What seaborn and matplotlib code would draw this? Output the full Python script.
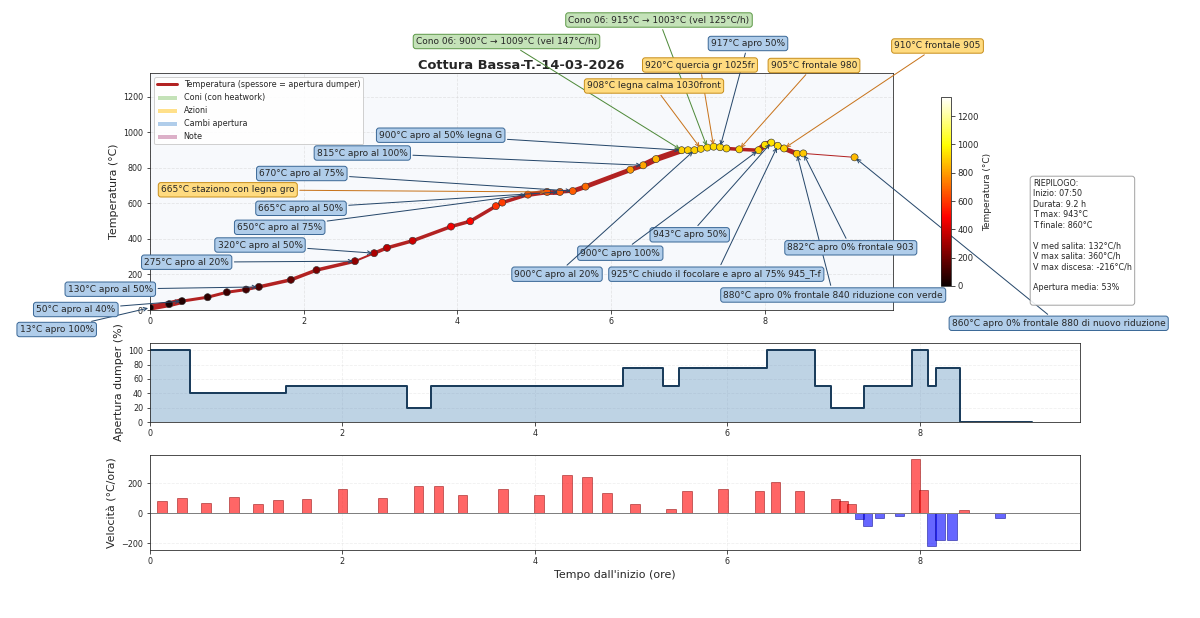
import numpy as np
import matplotlib
matplotlib.use("Agg")
import matplotlib.pyplot as plt
import seaborn as sns
from matplotlib.collections import LineCollection
from matplotlib.lines import Line2D
from matplotlib.patches import Patch
from matplotlib.colors import Normalize
from matplotlib.cm import ScalarMappable

sns.set_style("ticks")
plt.rcParams["font.family"] = ["DejaVu Sans"]

# ---------------- data ----------------
minutes = [0, 15, 25, 45, 60, 75, 85, 110, 130, 160, 175, 185, 205, 235, 250, 270, 275,
           295, 310, 320, 330, 340, 375, 385, 395, 415, 420, 425, 430, 435, 440, 445,
           450, 460, 475, 480, 485, 490, 495, 505, 510, 550]
temps = [13, 33, 50, 72, 100, 115, 130, 170, 225, 275, 320, 350, 390, 470, 500, 585, 605,
         650, 665, 665, 670, 695, 790, 815, 850, 900, 900, 900, 908, 915, 920, 917,
         910, 905, 900, 930, 943, 925, 910, 880, 882, 860]

dumper_min = [0, 25, 85, 160, 175, 295, 320, 330, 385, 415, 425, 445, 475, 485, 490, 505, 550]
dumper_open = [100, 40, 50, 20, 50, 75, 50, 75, 100, 50, 20, 50, 100, 50, 75, 0, 0]

# rate of each segment between consecutive readings (°C/h)
velocity = [80, 102, 66, 112, 60, 90, 96, 165, 100, 180, 180, 120, 160, 120, 255, 240,
            135, 60, 0, 30, 150, 163, 150, 210, 150, 0, 0, 96, 84, 60, -36, -84, -30,
            -20, 360, 156, -216, -180, -180, 24, -33]

ann_labels = [
    "13°C apro 100%", "50°C apro al 40%", "130°C apro al 50%", "275°C apro al 20%",
    "320°C apro al 50%", "650°C apro al 75%", "665°C apro al 50%",
    "665°C staziono con legna gro", "670°C apro al 75%", "815°C apro al 100%",
    "900°C apro al 50% legna G", "943°C apro 50%", "900°C apro 100%", "900°C apro al 20%",
    "925°C chiudo il focolare e apro al 75% 945_T-f",
    "880°C apro 0% frontale 840 riduzione con verde", "882°C apro 0% frontale 903",
    "860°C apro 0% frontale 880 di nuovo riduzione",
    "Cono 06: 915°C → 1003°C (vel 125°C/h)", "Cono 06: 900°C → 1009°C (vel 147°C/h)",
    "917°C apro 50%", "910°C frontale 905", "920°C quercia gr 1025fr",
    "905°C frontale 980", "908°C legna calma 1030front",
]
ann_minute = [0, 25, 85, 160, 175, 295, 320, 310, 330, 385, 415, 485, 475, 425, 490, 505,
              510, 550, 435, 415, 445, 495, 440, 460, 430]
ann_cat = ["apertura"] * 7 + ["azione"] + ["apertura"] * 10 + ["cono", "cono", "apertura",
                                                             "azione", "azione", "azione", "azione"]

summary = ("RIEPILOGO:\nInizio: 07:50\nDurata: 9.2 h\nT max: 943°C\nT finale: 860°C\n\n"
           "V med salita: 132°C/h\nV max salita: 360°C/h\nV max discesa: -216°C/h\n\n"
           "Apertura media: 53%\n")

# ---------------- layout (figure pixels from top-left) ----------------
ann_pos_px = [(56.7, 329.5), (75.8, 309.5), (110.3, 289.2), (186.7, 262.2), (260, 245),
              (279.7, 227.3), (301, 208.3), (227.8, 189.8), (301.8, 173.5), (362.3, 153),
              (440.7, 135.2), (689.7, 234.8), (620.3, 253.2), (557, 274.2), (716.3, 274.2),
              (833.2, 295), (850.8, 247.8), (1058.7, 323.3), (659, 20), (506.5, 41.5),
              (748, 43.5), (937.5, 46), (700, 65), (814, 65.5), (654, 86)]

styles = {
    "apertura": dict(fc="#b0cdea", ec="#3d6a98", arrow="#27486b"),
    "azione": dict(fc="#ffdb80", ec="#c8901e", arrow="#c8741c"),
    "cono": dict(fc="#c4e2b8", ec="#5f9a4a", arrow="#4f8a3a"),
}

W, H = 1200, 618
fig = plt.figure(figsize=(W / 72, H / 72), dpi=72)
ax1 = fig.add_axes([150 / W, 1 - 310 / H, 743 / W, 237 / H])
cax = fig.add_axes([941 / W, 1 - 286 / H, 9.5 / W, 189 / H])
ax2 = fig.add_axes([150 / W, 1 - 422 / H, 930 / W, 79 / H])
ax3 = fig.add_axes([150 / W, 1 - 550 / H, 930 / W, 95 / H])

hours = np.array(minutes) / 60.0
T = np.array(temps, dtype=float)
d_hours = np.array(dumper_min) / 60.0
XMAX = hours.max() + 0.5
YMAX = 1335

# ---------- main temperature panel ----------
ax1.set_facecolor("#f7f9fc")
seg_open = np.array(dumper_open)[np.searchsorted(dumper_min, minutes[:-1], side="right") - 1]
pts = np.column_stack([hours, T])
segs = np.stack([pts[:-1], pts[1:]], axis=1)
lc = LineCollection(segs, linewidths=1 + seg_open / 20.0, colors="#b22222",
                    capstyle="round", zorder=3)
ax1.add_collection(lc)
sns.scatterplot(x=hours, y=T, hue=T, palette="hot", hue_norm=(0, YMAX), s=50,
                edgecolor="#333333", linewidth=0.6, legend=False, zorder=5, ax=ax1)

for lab, m, cat, (px, py) in zip(ann_labels, ann_minute, ann_cat, ann_pos_px):
    i = minutes.index(m)
    st = styles[cat]
    ax1.annotate(lab, xy=(hours[i], T[i]), xytext=(px, H - py), textcoords="figure pixels",
                 ha="center", va="center", fontsize=9, zorder=10, annotation_clip=False,
                 bbox=dict(boxstyle="round,pad=0.3", fc=st["fc"], ec=st["ec"], lw=1),
                 arrowprops=dict(arrowstyle="->", color=st["arrow"], lw=1))

ax1.set_xlim(0, XMAX)
ax1.set_ylim(0, YMAX)
ax1.set_ylabel("Temperatura (°C)", fontsize=11)
ax1.set_title("Cottura Bassa-T.-14-03-2026", fontsize=13, fontweight="bold", pad=4)
ax1.grid(True, linestyle="--", alpha=0.45)
ax1.tick_params(labelsize=8)

handles = [Line2D([], [], color="#b22222", lw=3, label="Temperatura (spessore = apertura dumper)"),
           Patch(facecolor="#c4e2b8", label="Coni (con heatwork)"),
           Patch(facecolor="#ffe08a", label="Azioni"),
           Patch(facecolor="#b0cdea", label="Cambi apertura"),
           Patch(facecolor="#dcb0c8", label="Note")]
ax1.legend(handles=handles, loc="upper left", fontsize=8, handlelength=2.5, framealpha=0.9)

sm = ScalarMappable(norm=Normalize(0, YMAX), cmap="hot")
cb = fig.colorbar(sm, cax=cax)
cb.set_label("Temperatura (°C)", fontsize=9)
cb.ax.tick_params(labelsize=8.5)

# ---------- dumper panel ----------
ax2.fill_between(d_hours, dumper_open, step="post", color="steelblue", alpha=0.35, lw=0)
sns.lineplot(x=d_hours, y=dumper_open, drawstyle="steps-post", color="#1b3d5c", lw=2, ax=ax2)
ax2.set_xlim(0, XMAX)
ax2.set_ylim(0, 110)
ax2.set_yticks([0, 20, 40, 60, 80, 100])
ax2.set_ylabel("Apertura dumper (%)", fontsize=11)
ax2.grid(True, linestyle="--", alpha=0.3)
ax2.tick_params(labelsize=8)

# ---------- velocity panel ----------
mid = (hours[:-1] + hours[1:]) / 2
vel = np.array(velocity, dtype=float)
pos = vel >= 0
ax3.bar(mid[pos], vel[pos], width=0.1, color="red", alpha=0.6, edgecolor="darkred", lw=0.8)
ax3.bar(mid[~pos], vel[~pos], width=0.1, color="blue", alpha=0.6, edgecolor="darkblue", lw=0.8)
ax3.axhline(0, color="gray", lw=1)
ax3.set_xlim(0, XMAX)
ax3.set_ylim(-246, 390)
ax3.set_ylabel("Velocità (°C/ora)", fontsize=11)
ax3.set_xlabel("Tempo dall'inizio (ore)", fontsize=11)
ax3.grid(True, linestyle="--", alpha=0.3)
ax3.tick_params(labelsize=8)

fig.text(1033 / W, 1 - 179 / H, summary, fontsize=8, va="top", ha="left",
         bbox=dict(boxstyle="round,pad=0.35", fc="white", ec="#999999", alpha=0.9))

fig.savefig("out.png", dpi=72)
